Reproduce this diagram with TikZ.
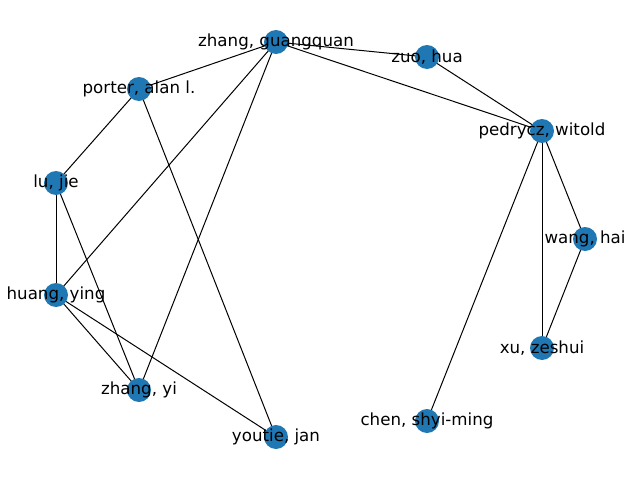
\documentclass[tikz,border=0pt]{standalone}
\usepackage{fontspec}
\setmainfont{DejaVu Sans}
\begin{document}
\begin{tikzpicture}[x=0.75pt,y=0.75pt,
  vert/.style={circle,fill={rgb,255:red,31;green,119;blue,180},draw=none,minimum size=18pt,inner sep=0pt},
  lab/.style={inner sep=0pt,font=\fontsize{12.5}{15}\selectfont},
  edge/.style={draw=black,line width=0.75pt}]
\useasboundingbox (0,0) rectangle (640,480);
% positions (pixel coords, y up)
\coordinate (zg) at (276,438);
\coordinate (zh) at (427,423);
\coordinate (pa) at (139,391);
\coordinate (pw) at (542,349);
\coordinate (lj) at (56,297);
\coordinate (wh) at (585,241);
\coordinate (hy) at (56,185);
\coordinate (xz) at (542,132);
\coordinate (zy) at (139,90);
\coordinate (cs) at (427,59);
\coordinate (yj) at (276,43);
% edges
\draw[edge] (zg) -- (zh);
\draw[edge] (zg) -- (pa);
\draw[edge] (zg) -- (pw);
\draw[edge] (zg) -- (hy);
\draw[edge] (zg) -- (zy);
\draw[edge] (zh) -- (pw);
\draw[edge] (pa) -- (lj);
\draw[edge] (pa) -- (yj);
\draw[edge] (lj) -- (hy);
\draw[edge] (lj) -- (zy);
\draw[edge] (hy) -- (zy);
\draw[edge] (hy) -- (yj);
\draw[edge] (pw) -- (wh);
\draw[edge] (pw) -- (xz);
\draw[edge] (pw) -- (cs);
\draw[edge] (wh) -- (xz);
% vertices
\foreach \n in {zg,zh,pa,pw,lj,wh,hy,xz,zy,cs,yj} \node[vert] (v\n) at (\n) {};
% labels
\node[lab] (lzg) at (zg) {zhang, guangquan};
\node[lab] (lzh) at (zh) {zuo, hua};
\node[lab] (lpa) at (pa) {porter, alan l.};
\node[lab] (lpw) at (pw) {pedrycz, witold};
\node[lab] (llj) at (lj) {lu, jie};
\node[lab] (lwh) at (wh) {wang, hai};
\node[lab] (lhy) at (hy) {huang, ying};
\node[lab] (lxz) at (xz) {xu, zeshui};
\node[lab] (lzy) at (zy) {zhang, yi};
\node[lab] (lcs) at (cs) {chen, shyi-ming};
\node[lab] (lyj) at (yj) {youtie, jan};
\end{tikzpicture}
\end{document}
